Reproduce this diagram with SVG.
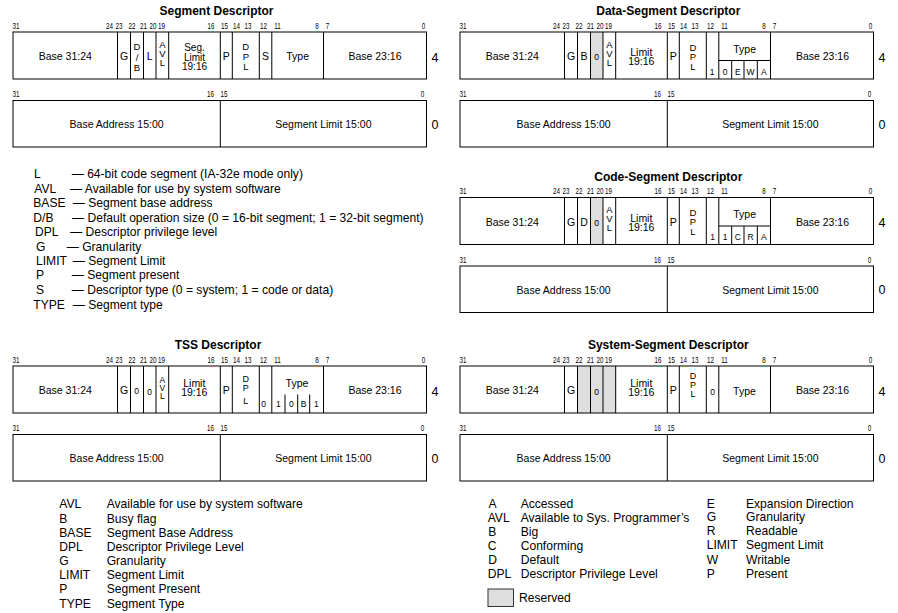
<svg xmlns="http://www.w3.org/2000/svg" xmlns:xlink="http://www.w3.org/1999/xlink" width="898" height="613" viewBox="0 0 898 613">
<style>
text{font-family:"Liberation Sans",Arial,Helvetica,sans-serif;fill:#000}
.title{font-size:12px;font-weight:bold;text-anchor:middle}
.f{font-size:10.5px;text-anchor:middle}
.f2{font-size:10px;text-anchor:middle}
.s{font-size:9.5px;text-anchor:middle}
.s2{font-size:9px;text-anchor:middle}
.z{font-size:8.5px;text-anchor:middle}
.b{font-size:9.5px;text-anchor:middle}
.side{font-size:12.5px;text-anchor:middle}
.leg{font-size:12.1px}
.box{fill:none;stroke:#000;stroke-width:1}
.rsv{fill:#dedede;stroke:none}
.ln{stroke:#000;stroke-width:1;fill:none}
</style>
<defs>
<g id="bitsTop" class="b" transform="scale(0.66,1)">
<text x="24.2" y="0">31</text><text x="165.9" y="0">24</text><text x="180.3" y="0">23</text><text x="200" y="0">22</text><text x="217.4" y="0">21</text><text x="231.8" y="0">20</text><text x="244.7" y="0">19</text><text x="319.7" y="0">16</text><text x="340.2" y="0">15</text><text x="358.3" y="0">14</text><text x="375.8" y="0">13</text><text x="399.2" y="0">12</text><text x="420.5" y="0">11</text><text x="480.3" y="0">8</text><text x="496.2" y="0">7</text><text x="641.7" y="0">0</text>
</g>
<g id="bitsBot" class="b" transform="scale(0.66,1)">
<text x="24.2" y="0">31</text><text x="318.9" y="0">16</text><text x="339.4" y="0">15</text><text x="640.2" y="0">0</text>
</g>
<path id="divs" class="ln" d="M117.5 0V47M130.5 0V47M143.5 0V47M156 0V47M168.7 0V47M220.3 0V47M232.3 0V47M259.3 0V47M271.8 0V47M323.5 0V47"/>
<g id="low">
<use xlink:href="#bitsBot" transform="translate(0,65)"/>
<rect class="box" x="13" y="68.5" width="413.5" height="46.5"/>
<path class="ln" d="M220.3 68.5V115"/>
<text class="f" x="116.6" y="96.3">Base Address 15:00</text>
<text class="f" x="323.4" y="96.3">Segment Limit 15:00</text>
<text class="side" x="435" y="29.8">4</text>
<text class="side" x="435" y="96.5">0</text>
</g>
</defs>

<g id="segment-descriptor" transform="translate(0,32)">
<text class="title" x="216.5" y="-17">Segment Descriptor</text>
<use xlink:href="#bitsTop" transform="translate(0,-3.5)"/>
<rect class="box" x="13" y="0" width="413.5" height="47"/>
<use xlink:href="#divs"/>
<text class="f" x="65.3" y="28">Base 31:24</text>
<text class="f" x="124" y="28">G</text>
<text class="s" x="137" y="18">D<tspan x="137" y="28.5">/</tspan><tspan x="137" y="39">B</tspan></text>
<text class="f" x="149.7" y="28">L</text>
<text class="s" x="162.3" y="15.5">A<tspan x="162.3" y="24.5">V</tspan><tspan x="162.3" y="33.5">L</tspan></text>
<text class="f2" x="194.5" y="19.3">Seg.<tspan x="194.5" y="28.5">Limit</tspan><tspan x="194.5" y="37.6">19:16</tspan></text>
<text class="f" x="226.3" y="28">P</text>
<text class="s" x="245.8" y="18">D<tspan x="245.8" y="27.5">P</tspan><tspan x="245.8" y="37.5">L</tspan></text>
<text class="f" x="265.5" y="28">S</text>
<text class="f" x="297.6" y="28">Type</text>
<text class="f" x="375" y="28">Base 23:16</text>
<use xlink:href="#low"/>
</g>

<g id="data-segment-descriptor" transform="translate(447,32)">
<text class="title" x="221.3" y="-17">Data-Segment Descriptor</text>
<use xlink:href="#bitsTop" transform="translate(0,-3.5)"/>
<rect class="rsv" x="143.5" y="0" width="12.5" height="47"/>
<rect class="box" x="13" y="0" width="413.5" height="47"/>
<use xlink:href="#divs"/>
<path class="ln" d="M271.8 28.5H323.5M284.7 28.5V47M297 28.5V47M310.3 28.5V47"/>
<text class="f" x="65.3" y="28">Base 31:24</text>
<text class="f" x="124" y="28">G</text>
<text class="f" x="137" y="28">B</text>
<text class="z" x="149.7" y="28">0</text>
<text class="s" x="162.3" y="15.5">A<tspan x="162.3" y="24.5">V</tspan><tspan x="162.3" y="33.5">L</tspan></text>
<text class="f" x="194.3" y="24.3">Limit<tspan x="194.3" y="33.2">19:16</tspan></text>
<text class="f" x="226.3" y="28">P</text>
<text class="s" x="246" y="18.5">D<tspan x="246" y="28">P</tspan><tspan x="246" y="38">L</tspan></text>
<text class="z" x="265" y="43">1</text>
<text class="f" x="297.6" y="20.5">Type</text>
<text class="z" x="278.2" y="42.5">0</text><text class="z" x="290.8" y="42.5">E</text><text class="z" x="303.6" y="42.5">W</text><text class="z" x="316.9" y="42.5">A</text>
<text class="f" x="375.5" y="28">Base 23:16</text>
<use xlink:href="#low"/>
</g>

<g id="flag-legend">
<text class="leg" x="34" y="177.6">L</text><text class="leg" x="71.7" y="177.6">— 64-bit code segment (IA-32e mode only)</text>
<text class="leg" x="34.3" y="192.6">AVL</text><text class="leg" x="70" y="192.6">— Available for use by system software</text>
<text class="leg" x="33.3" y="207">BASE</text><text class="leg" x="72.7" y="207">— Segment base address</text>
<text class="leg" x="33.3" y="221.6">D/B</text><text class="leg" x="72" y="221.6">— Default operation size (0 = 16-bit segment; 1 = 32-bit segment)</text>
<text class="leg" x="35" y="236">DPL</text><text class="leg" x="70" y="236">— Descriptor privilege level</text>
<text class="leg" x="36" y="251">G</text><text class="leg" x="66.7" y="251">— Granularity</text>
<text class="leg" x="36" y="265">LIMIT</text><text class="leg" x="72.7" y="265">— Segment Limit</text>
<text class="leg" x="36" y="279.3">P</text><text class="leg" x="71.7" y="279.3">— Segment present</text>
<text class="leg" x="36" y="294.3">S</text><text class="leg" x="71.7" y="294.3">— Descriptor type (0 = system; 1 = code or data)</text>
<text class="leg" x="33.3" y="308.6">TYPE</text><text class="leg" x="72.7" y="308.6">— Segment type</text>
</g>

<g id="code-segment-descriptor" transform="translate(447,197.5)">
<text class="title" x="221.3" y="-17">Code-Segment Descriptor</text>
<use xlink:href="#bitsTop" transform="translate(0,-3.5)"/>
<rect class="rsv" x="143.5" y="0" width="12.5" height="47"/>
<rect class="box" x="13" y="0" width="413.5" height="47"/>
<use xlink:href="#divs"/>
<path class="ln" d="M271.8 28.5H323.5M284.7 28.5V47M297 28.5V47M310.3 28.5V47"/>
<text class="f" x="65.3" y="28">Base 31:24</text>
<text class="f" x="124" y="28">G</text>
<text class="f" x="137" y="28">D</text>
<text class="z" x="149.7" y="28">0</text>
<text class="s" x="162.3" y="15.5">A<tspan x="162.3" y="24.5">V</tspan><tspan x="162.3" y="33.5">L</tspan></text>
<text class="f" x="194.3" y="24.3">Limit<tspan x="194.3" y="33.2">19:16</tspan></text>
<text class="f" x="226.3" y="28">P</text>
<text class="s" x="246" y="18.3">D<tspan x="246" y="27.7">P</tspan><tspan x="246" y="37.7">L</tspan></text>
<text class="z" x="265.5" y="42">1</text>
<text class="f" x="297.6" y="20.5">Type</text>
<text class="z" x="278.2" y="42">1</text><text class="z" x="290.8" y="42">C</text><text class="z" x="303.6" y="42">R</text><text class="z" x="316.9" y="42">A</text>
<text class="f" x="375.5" y="28">Base 23:16</text>
<use xlink:href="#low"/>
</g>

<g id="tss-descriptor" transform="translate(0,366)">
<text class="title" x="218" y="-17">TSS Descriptor</text>
<use xlink:href="#bitsTop" transform="translate(0,-3.5)"/>
<rect class="box" x="13" y="0" width="413.5" height="47"/>
<use xlink:href="#divs"/>
<path class="ln" d="M285 28.5V47M297.7 28.5V47M309.7 28.5V47"/>
<text class="f" x="65.3" y="28">Base 31:24</text>
<text class="f" x="124" y="28">G</text>
<text class="z" x="136.7" y="27.5">0</text>
<text class="z" x="149.5" y="28.5">0</text>
<text class="z" x="162.3" y="16.5">A<tspan x="162.3" y="24.5">V</tspan><tspan x="162.3" y="32.5">L</tspan></text>
<text class="f" x="194.3" y="20.8">Limit<tspan x="194.3" y="29.8">19:16</tspan></text>
<text class="f" x="226.3" y="28">P</text>
<text class="s2" x="245.8" y="16.3">D<tspan x="245.8" y="25">P</tspan><tspan x="245.8" y="38">L</tspan></text>
<text class="z" x="263.5" y="40.5">0</text>
<text class="f" x="297" y="20.5">Type</text>
<text class="z" x="278.3" y="40.8">1</text><text class="z" x="291.3" y="40.8">0</text><text class="z" x="303.5" y="40.8">B</text><text class="z" x="316.3" y="40.8">1</text>
<text class="f" x="375" y="28">Base 23:16</text>
<use xlink:href="#low"/>
</g>

<g id="system-segment-descriptor" transform="translate(447,366)">
<text class="title" x="221.3" y="-17">System-Segment Descriptor</text>
<use xlink:href="#bitsTop" transform="translate(0,-3.5)"/>
<rect class="rsv" x="130.5" y="0" width="38.2" height="47"/>
<rect class="box" x="13" y="0" width="413.5" height="47"/>
<use xlink:href="#divs"/>
<text class="f" x="65.3" y="28">Base 31:24</text>
<text class="f" x="124" y="28">G</text>
<text class="z" x="149.7" y="28.5">0</text>
<text class="f" x="194.3" y="20.5">Limit<tspan x="194.3" y="29.5">19:16</tspan></text>
<text class="f" x="226.3" y="28">P</text>
<text class="s2" x="246" y="13.3">D<tspan x="246" y="22">P</tspan><tspan x="246" y="31">L</tspan></text>
<text class="z" x="265.7" y="28.5">0</text>
<text class="f" x="297.5" y="28.5">Type</text>
<text class="f" x="375.5" y="28">Base 23:16</text>
<use xlink:href="#low"/>
</g>

<g id="tss-legend">
<text class="leg" x="59.3" y="508.3">AVL</text><text class="leg" x="106.7" y="508.3">Available for use by system software</text>
<text class="leg" x="59.3" y="522.6">B</text><text class="leg" x="106.7" y="522.6">Busy flag</text>
<text class="leg" x="59.3" y="536.6">BASE</text><text class="leg" x="106.7" y="536.6">Segment Base Address</text>
<text class="leg" x="59.3" y="551">DPL</text><text class="leg" x="106.7" y="551">Descriptor Privilege Level</text>
<text class="leg" x="59.3" y="565">G</text><text class="leg" x="106.7" y="565">Granularity</text>
<text class="leg" x="59.3" y="579.3">LIMIT</text><text class="leg" x="106.7" y="579.3">Segment Limit</text>
<text class="leg" x="59.3" y="593.3">P</text><text class="leg" x="106.7" y="593.3">Segment Present</text>
<text class="leg" x="59.3" y="607.6">TYPE</text><text class="leg" x="106.7" y="607.6">Segment Type</text>
</g>

<g id="segment-legend">
<text class="leg" x="488.5" y="507.6">A</text><text class="leg" x="520.7" y="507.6">Accessed</text>
<text class="leg" x="487.7" y="521.6">AVL</text><text class="leg" x="520.7" y="521.6">Available to Sys. Programmer’s</text>
<text class="leg" x="488.3" y="536">B</text><text class="leg" x="520.7" y="536">Big</text>
<text class="leg" x="487.7" y="550.3">C</text><text class="leg" x="520.7" y="550.3">Conforming</text>
<text class="leg" x="488.3" y="564.3">D</text><text class="leg" x="520.7" y="564.3">Default</text>
<text class="leg" x="487.7" y="578.3">DPL</text><text class="leg" x="520.7" y="578.3">Descriptor Privilege Level</text>
<text class="leg" x="706.7" y="507.6">E</text><text class="leg" x="746" y="507.6">Expansion Direction</text>
<text class="leg" x="706.7" y="521">G</text><text class="leg" x="746" y="521">Granularity</text>
<text class="leg" x="706.7" y="535">R</text><text class="leg" x="746" y="535">Readable</text>
<text class="leg" x="706.7" y="549.3">LIMIT</text><text class="leg" x="746" y="549.3">Segment Limit</text>
<text class="leg" x="706.7" y="563.6">W</text><text class="leg" x="746" y="563.6">Writable</text>
<text class="leg" x="706.7" y="577.6">P</text><text class="leg" x="746" y="577.6">Present</text>
<rect x="488" y="589" width="25.5" height="17.5" fill="#dedede" stroke="#333" stroke-width="1"/>
<text class="leg" x="519" y="601.6">Reserved</text>
</g>
</svg>
